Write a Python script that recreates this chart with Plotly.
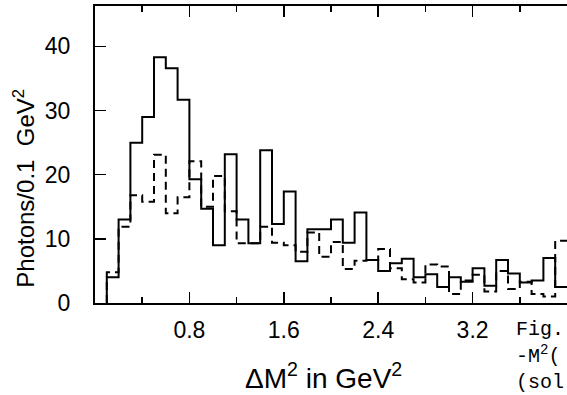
import plotly.graph_objects as go

# bin lower edges (GeV^2), bin width 0.1
bin_lo = [0.1, 0.2, 0.3, 0.4, 0.5, 0.6, 0.7, 0.8, 0.9, 1.0,
          1.1, 1.2, 1.3, 1.4, 1.5, 1.6, 1.7, 1.8, 1.9, 2.0,
          2.1, 2.2, 2.3, 2.4, 2.5, 2.6, 2.7, 2.8, 2.9, 3.0,
          3.1, 3.2, 3.3, 3.4, 3.5, 3.6, 3.7, 3.8, 3.9]
bin_end = 4.0

solid_counts = [4.0, 13.0, 25.0, 29.0, 38.3, 36.6, 31.7, 19.3, 14.7, 9.0,
                23.2, 13.0, 9.3, 23.8, 12.3, 17.4, 6.5, 11.5, 11.5, 13.0,
                9.4, 14.1, 6.7, 5.0, 6.2, 6.9, 4.0, 4.5, 2.5, 4.0,
                3.3, 5.4, 2.7, 6.7, 4.6, 3.2, 3.5, 7.0, 2.5]

dashed_counts = [4.8, 11.9, 16.8, 15.8, 23.1, 14.0, 16.5, 22.1, 15.0, 19.8,
                 14.3, 9.3, 9.3, 11.9, 9.4, 9.0, 8.0, 11.0, 7.2, 9.5,
                 5.3, 6.6, 6.7, 8.4, 5.4, 3.7, 3.2, 6.0, 5.7, 1.4,
                 3.5, 4.4, 1.8, 5.0, 2.2, 3.3, 1.4, 1.0, 9.7]

x_major = [0.8, 1.6, 2.4, 3.2]
x_minor = [0.4, 1.2, 2.0, 2.8, 3.6]
y_ticks = [0, 10, 20, 30, 40]


def step_xy(lo, end, vals):
    xs = [lo[0]] + list(lo) + [end]
    ys = [0] + list(vals) + [vals[-1]]
    return xs, ys


fig = go.Figure()
xs, ys = step_xy(bin_lo, bin_end, dashed_counts)
fig.add_trace(go.Scatter(x=xs, y=ys, mode="lines", line_shape="hv",
                         line=dict(color="black", width=2, dash="8px,5px"),
                         showlegend=False, hoverinfo="skip"))
xs, ys = step_xy(bin_lo, bin_end, solid_counts)
fig.add_trace(go.Scatter(x=xs, y=ys, mode="lines", line_shape="hv",
                         line=dict(color="black", width=2),
                         showlegend=False, hoverinfo="skip"))

FONT = "Liberation Sans, Arial, sans-serif"
L, T, W, H = 95, 6, 567, 395
B = 395 - 303.5
pw = W - L
ph = H - T - B

fig.update_layout(
    width=W, height=H,
    margin=dict(l=L, r=0, t=T, b=B, pad=0),
    paper_bgcolor="white", plot_bgcolor="white",
    font=dict(family=FONT, size=23, color="black"),
    showlegend=False,
)
fig.update_xaxes(
    range=[0, 4.0], tickvals=x_major, ticktext=[f"{v:.1f}" for v in x_major],
    ticks="inside", ticklen=11, tickwidth=1.5, tickcolor="black",
    showline=True, linecolor="black", linewidth=2, mirror="ticks",
    showgrid=False, zeroline=False, ticklabelstandoff=5,
    minor=dict(tickvals=x_minor, ticks="inside", ticklen=6, tickwidth=1.5,
               tickcolor="black", showgrid=False),
    tickfont=dict(family=FONT, size=23, color="black"),
)
fig.update_yaxes(
    range=[0, 46.3], tickvals=y_ticks,
    ticks="inside", ticklen=11, tickwidth=1.5, tickcolor="black",
    showline=True, linecolor="black", linewidth=2, mirror=False,
    showgrid=False, zeroline=False, ticklabelstandoff=18,
    tickfont=dict(family=FONT, size=23, color="black"),
)


def px(xp):
    return (xp - L) / pw


def py(yp):
    return (H - B - yp) / ph


fig.add_annotation(text="Photons/0.1  GeV<sup>2</sup>", textangle=-90,
                   xref="paper", yref="paper", x=px(24), y=py(189),
                   xanchor="center", yanchor="middle", showarrow=False,
                   font=dict(family=FONT, size=24, color="black"))
fig.add_annotation(text="ΔM<sup>2</sup> in GeV<sup>2</sup>",
                   xref="paper", yref="paper", x=px(323), y=py(377),
                   xanchor="center", yanchor="middle", showarrow=False,
                   font=dict(family=FONT, size=28, color="black"))
MONO = "Liberation Mono, Courier New, monospace"
for txt, yc in [("Fig.", 330), ("-M<sup>2</sup>(", 356), ("(sol", 383)]:
    fig.add_annotation(text=txt, xref="paper", yref="paper",
                       x=px(514), y=py(yc), xanchor="left", yanchor="middle",
                       showarrow=False,
                       font=dict(family=MONO, size=20, color="black"))

fig.write_html("out.html",
               config={"displayModeBar": False, "staticPlot": True},
               post_script="document.body.style.margin='0';")
